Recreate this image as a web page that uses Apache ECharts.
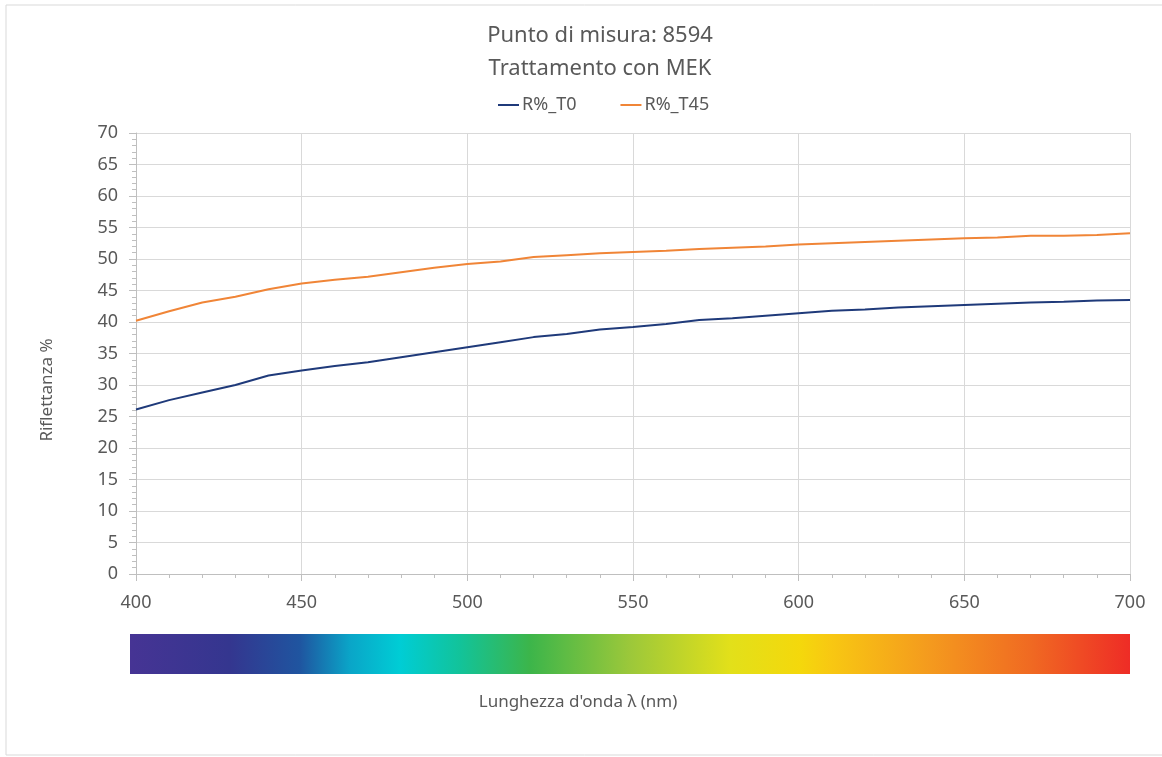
<!DOCTYPE html>
<html>
<head>
<meta charset="utf-8">
<title>Punto di misura: 8594</title>
<script src="https://cdn.jsdelivr.net/npm/echarts@6/dist/echarts.min.js"></script>
<style>
  html, body { margin: 0; padding: 0; background: #fff; }
  #chart { width: 1162px; height: 757px; }
</style>
</head>
<body>
<div id="chart"></div>
<script>
  // lunghezze d'onda (nm)
  var wavelengths = [400, 410, 420, 430, 440, 450, 460, 470, 480, 490, 500,
    510, 520, 530, 540, 550, 560, 570, 580, 590, 600,
    610, 620, 630, 640, 650, 660, 670, 680, 690, 700];
  var rT0 = [26.1, 27.6, 28.8, 30.0, 31.5, 32.3, 33.0, 33.6, 34.4, 35.2, 36.0,
    36.8, 37.6, 38.1, 38.8, 39.2, 39.7, 40.3, 40.6, 41.0, 41.4,
    41.8, 42.0, 42.3, 42.5, 42.7, 42.9, 43.1, 43.2, 43.4, 43.5];
  var rT45 = [40.2, 41.7, 43.1, 44.0, 45.2, 46.1, 46.7, 47.2, 47.9, 48.6, 49.2,
    49.6, 50.3, 50.6, 50.9, 51.1, 51.3, 51.6, 51.8, 52.0, 52.3,
    52.5, 52.7, 52.9, 53.1, 53.3, 53.4, 53.7, 53.7, 53.8, 54.1];
  var seriesNames = ['R%_T0', 'R%_T45'];

  function pairs(xs, ys) {
    var out = [];
    for (var i = 0; i < xs.length; i++) {
      out.push([xs[i], ys[i]]);
    }
    return out;
  }

  var txt = '#595959';
  var font = '"Noto Sans", sans-serif';

  var option = {
    backgroundColor: '#fff',
    animation: false,
    textStyle: { fontFamily: font },
    title: {
      text: 'Punto di misura: 8594\nTrattamento con MEK',
      left: 595,
      textAlign: 'center',
      top: 14,
      textStyle: {
        color: txt,
        fontSize: 22,
        fontWeight: 'normal',
        lineHeight: 33,
        fontFamily: font
      }
    },
    legend: {
      data: seriesNames,
      top: 91,
      left: 493,
      itemWidth: 21,
      itemHeight: 2,
      itemGap: 44,
      icon: 'rect',
      textStyle: { color: txt, fontSize: 18, fontFamily: font, padding: [0, 0, 0, -2] }
    },
    grid: {
      left: 136,
      right: 32,
      top: 133,
      bottom: 183,
      containLabel: false
    },
    xAxis: {
      type: 'value',
      min: 400,
      max: 700,
      interval: 50,
      axisLine: { lineStyle: { color: '#bfbfbf' } },
      axisTick: { show: true, length: 7, lineStyle: { color: '#bfbfbf' } },
      minorTick: { show: true, splitNumber: 5, length: 4, lineStyle: { color: '#bfbfbf' } },
      axisLabel: { color: txt, fontSize: 18, margin: 20, fontFamily: font },
      splitLine: { show: true, lineStyle: { color: '#d9d9d9' } }
    },
    yAxis: {
      type: 'value',
      min: 0,
      max: 70,
      interval: 5,
      axisLine: { show: true, lineStyle: { color: '#bfbfbf' } },
      axisTick: { show: true, length: 7, lineStyle: { color: '#bfbfbf' } },
      minorTick: { show: true, splitNumber: 5, length: 4, lineStyle: { color: '#bfbfbf' } },
      axisLabel: { color: txt, fontSize: 18, margin: 18, fontFamily: font },
      splitLine: { show: true, lineStyle: { color: '#d9d9d9' } }
    },
    series: [{
      name: seriesNames[0],
      type: 'line',
      showSymbol: false,
      data: pairs(wavelengths, rT0),
      itemStyle: { color: '#1f3a7a' },
      lineStyle: { color: '#1f3a7a', width: 2 }
    }, {
      name: seriesNames[1],
      type: 'line',
      showSymbol: false,
      data: pairs(wavelengths, rT45),
      itemStyle: { color: '#f08537' },
      lineStyle: { color: '#f08537', width: 2 }
    }],
    graphic: [{
      type: 'rect',
      shape: { x: 6, y: 5, width: 1160, height: 750 },
      style: { fill: 'none', stroke: '#d9d9d9', lineWidth: 1 },
      silent: true,
      z: -1
    }, {
      // barra dello spettro visibile
      type: 'rect',
      shape: { x: 130, y: 634, width: 1000, height: 40 },
      style: {
        fill: new echarts.graphic.LinearGradient(0, 0, 1, 0, [
          { offset: 0, color: '#463494' },
          { offset: 0.1, color: '#34368f' },
          { offset: 0.17, color: '#1f55a0' },
          { offset: 0.22, color: '#0aa5c8' },
          { offset: 0.27, color: '#00cdd5' },
          { offset: 0.33, color: '#12c39a' },
          { offset: 0.4, color: '#3cb54a' },
          { offset: 0.5, color: '#9cc83a' },
          { offset: 0.6, color: '#e2e01a' },
          { offset: 0.67, color: '#f4d80c' },
          { offset: 0.7, color: '#f8c812' },
          { offset: 0.8, color: '#f49a1e' },
          { offset: 0.9, color: '#f06a22' },
          { offset: 1, color: '#ee2c26' }
        ])
      },
      silent: true
    }, {
      type: 'text',
      x: 578,
      y: 702,
      style: {
        text: "Lunghezza d'onda λ (nm)",
        fill: txt,
        fontSize: 17,
        fontFamily: font,
        textAlign: 'center',
        textVerticalAlign: 'middle'
      }
    }, {
      type: 'text',
      x: 47,
      y: 390,
      rotation: Math.PI / 2,
      style: {
        text: 'Riflettanza %',
        fill: txt,
        fontSize: 17,
        fontFamily: font,
        textAlign: 'center',
        textVerticalAlign: 'middle'
      }
    }]
  };

  var chart = echarts.init(document.getElementById('chart'));
  chart.setOption(option);
</script>
</body>
</html>
